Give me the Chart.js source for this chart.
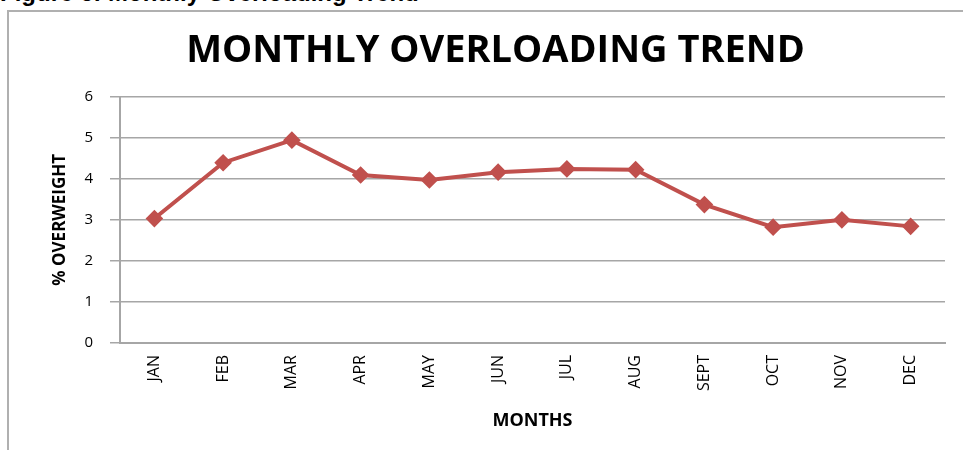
<!DOCTYPE html>
<html>
<head>
<meta charset="utf-8">
<script src="https://cdn.jsdelivr.net/npm/chart.js@4"></script>
<style>
  html, body { margin: 0; padding: 0; background: #fff; }
  #wrap { position: relative; width: 963px; height: 450px; overflow: hidden; }
  #caption {
    position: absolute; left: 0; top: -21px;
    font: bold 24px "Liberation Sans", Arial, sans-serif; color: #000;
    white-space: nowrap; line-height: 28px;
  }
  #frame {
    position: absolute; left: 7px; top: 10px; width: 1000px; height: 500px;
    border: 2px solid #b0b0b0; box-sizing: border-box;
  }
  canvas { position: absolute; left: 0; top: 0; }
</style>
</head>
<body>
<div id="wrap">
  <div id="caption">Figure 6: Monthly Overloading Trend</div>
  <div id="frame"></div>
  <canvas id="myChart" width="963" height="450"></canvas>
</div>
<script>
const months = ["JAN", "FEB", "MAR", "APR", "MAY", "JUN", "JUL", "AUG", "SEPT", "OCT", "NOV", "DEC"]
const overweight = [3.03, 4.39, 4.94, 4.09, 3.97, 4.16, 4.24, 4.22, 3.37, 2.82, 3.00, 2.84]
const yTicks = [0, 1, 2, 3, 4, 5, 6]

const red = "#c0504d"
const gridGray = "#a6a6a6"

const chartDOM = document.getElementById("myChart")

const config = {
  type: "line",
  data: {
    labels: months,
    datasets: [{
      label: "% OVERWEIGHT",
      data: overweight,
      borderColor: red,
      backgroundColor: red,
      borderWidth: 4,
      pointStyle: "rectRot",
      pointRadius: 6,
      pointHoverRadius: 6,
      tension: 0
    }]
  },
  options: {
    responsive: false,
    animation: false,
    layout: { padding: { left: 46, right: 18, top: 28, bottom: 14 } },
    plugins: {
      legend: { display: false },
      tooltip: { enabled: false },
      title: {
        display: true,
        text: "MONTHLY OVERLOADING TREND",
        color: "#000",
        font: { family: "Open Sans", size: 38, weight: "bold" },
        padding: { top: 0, bottom: 23 }
      }
    },
    scales: {
      x: {
        offset: true,
        grid: { display: false },
        border: { display: true, color: gridGray, width: 2 },
        ticks: {
          color: "#000",
          maxRotation: 90,
          minRotation: 90,
          padding: 4,
          font: { family: "Open Sans", size: 16 }
        },
        title: {
          display: true,
          text: "MONTHS",
          color: "#000",
          font: { family: "Open Sans", size: 18, weight: "bold" },
          padding: { top: 13 }
        },
        afterFit: (s) => { s.height = 450 - 343 - 14 }
      },
      y: {
        min: 0,
        max: 6,
        afterBuildTicks: (s) => { s.ticks = yTicks.map(v => ({ value: v })) },
        grid: { color: gridGray, lineWidth: 1.5, tickLength: 10, drawTicks: true },
        border: { display: true, color: gridGray, width: 2 },
        ticks: {
          color: "#000",
          padding: 17,
          font: { family: "Open Sans", size: 15 }
        },
        title: {
          display: true,
          text: "% OVERWEIGHT",
          color: "#000",
          font: { family: "Open Sans", size: 17, weight: "bold" },
          padding: { bottom: 6 }
        },
        afterFit: (s) => { s.width = 120 - 46 }
      }
    }
  }
}

let myChart = new Chart(chartDOM, config)
</script>
</body>
</html>
